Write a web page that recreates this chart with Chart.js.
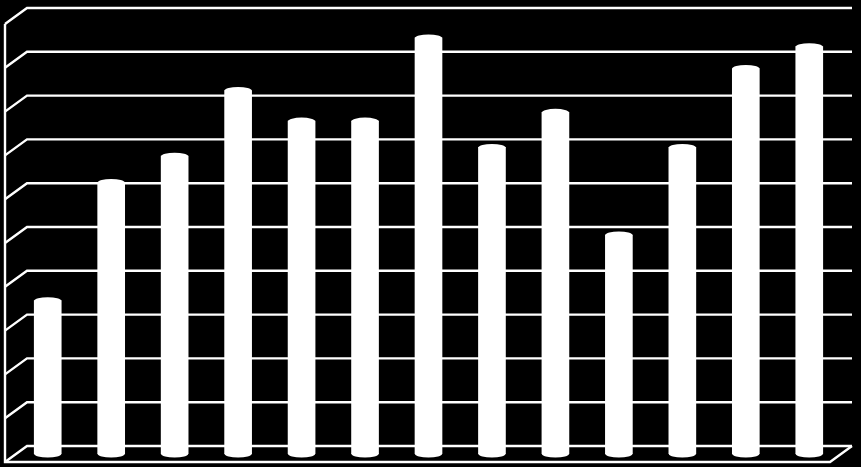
<!DOCTYPE html>
<html>
<head>
<meta charset="utf-8">
<style>
  html, body { margin: 0; padding: 0; background: #000; overflow: hidden; }
  canvas { display: block; }
</style>
<script src="https://cdn.jsdelivr.net/npm/chart.js@4"></script>
</head>
<body>
<canvas id="grafico" width="861" height="467"></canvas>
<script>
const categorias = ['1', '2', '3', '4', '5', '6', '7', '8', '9', '10', '11', '12', '13']
const valores = [3.5, 6.2, 6.8, 8.3, 7.6, 7.6, 9.5, 7.0, 7.8, 5.0, 7.0, 8.8, 9.3]
const valorMin = 0
const valorMax = 10
const passo = 1

// half of the 3D depth: walls sit this far behind / in front of the bar plane
const metadeX = 11
const metadeY = 8
const capaY = 3.5

const moldura3d = {
    id: 'moldura3d',
    beforeDatasetsDraw(chart) {
        const { ctx, chartArea, scales } = chart
        const esquerda = chartArea.left - metadeX
        const fundoEsq = chartArea.left + metadeX
        const fundoDir = chartArea.right + metadeX
        const frenteDir = chartArea.right - metadeX
        const yBase = scales.y.getPixelForValue(valorMin)
        const yTopo = scales.y.getPixelForValue(valorMax)

        ctx.save()
        ctx.strokeStyle = '#fff'
        ctx.lineWidth = 2.4
        ctx.lineJoin = 'miter'
        scales.y.ticks.forEach(tick => {
            const y = scales.y.getPixelForValue(tick.value)
            ctx.beginPath()
            ctx.moveTo(esquerda, y + metadeY)
            ctx.lineTo(fundoEsq, y - metadeY)
            ctx.lineTo(fundoDir, y - metadeY)
            ctx.stroke()
        })
        // left wall edge and floor front
        ctx.beginPath()
        ctx.moveTo(esquerda, yTopo + metadeY)
        ctx.lineTo(esquerda, yBase + metadeY)
        ctx.lineTo(frenteDir, yBase + metadeY)
        ctx.lineTo(fundoDir, yBase - metadeY)
        ctx.stroke()
        ctx.restore()
    },
    afterDatasetsDraw(chart) {
        const { ctx } = chart
        ctx.save()
        ctx.fillStyle = '#fff'
        chart.getDatasetMeta(0).data.forEach(barra => {
            [barra.y, barra.base].forEach(y => {
                ctx.beginPath()
                ctx.ellipse(barra.x, y, barra.width / 2, capaY, 0, 0, Math.PI * 2)
                ctx.fill()
            })
        })
        ctx.restore()
    }
}

new Chart(document.getElementById('grafico'), {
    type: 'bar',
    data: {
        labels: categorias,
        datasets: [{
            data: valores,
            backgroundColor: '#fff',
            borderWidth: 0,
            barThickness: 27
        }]
    },
    options: {
        responsive: false,
        animation: false,
        layout: { padding: { left: 8, right: 20, top: 16, bottom: 5 } },
        plugins: {
            legend: { display: false },
            tooltip: { enabled: false }
        },
        scales: {
            x: {
                grid: { display: false },
                border: { display: false },
                ticks: { display: false }
            },
            y: {
                min: valorMin,
                max: valorMax,
                ticks: { display: false, stepSize: passo },
                grid: { display: false },
                border: { display: false }
            }
        }
    },
    plugins: [moldura3d]
})
</script>
</body>
</html>
